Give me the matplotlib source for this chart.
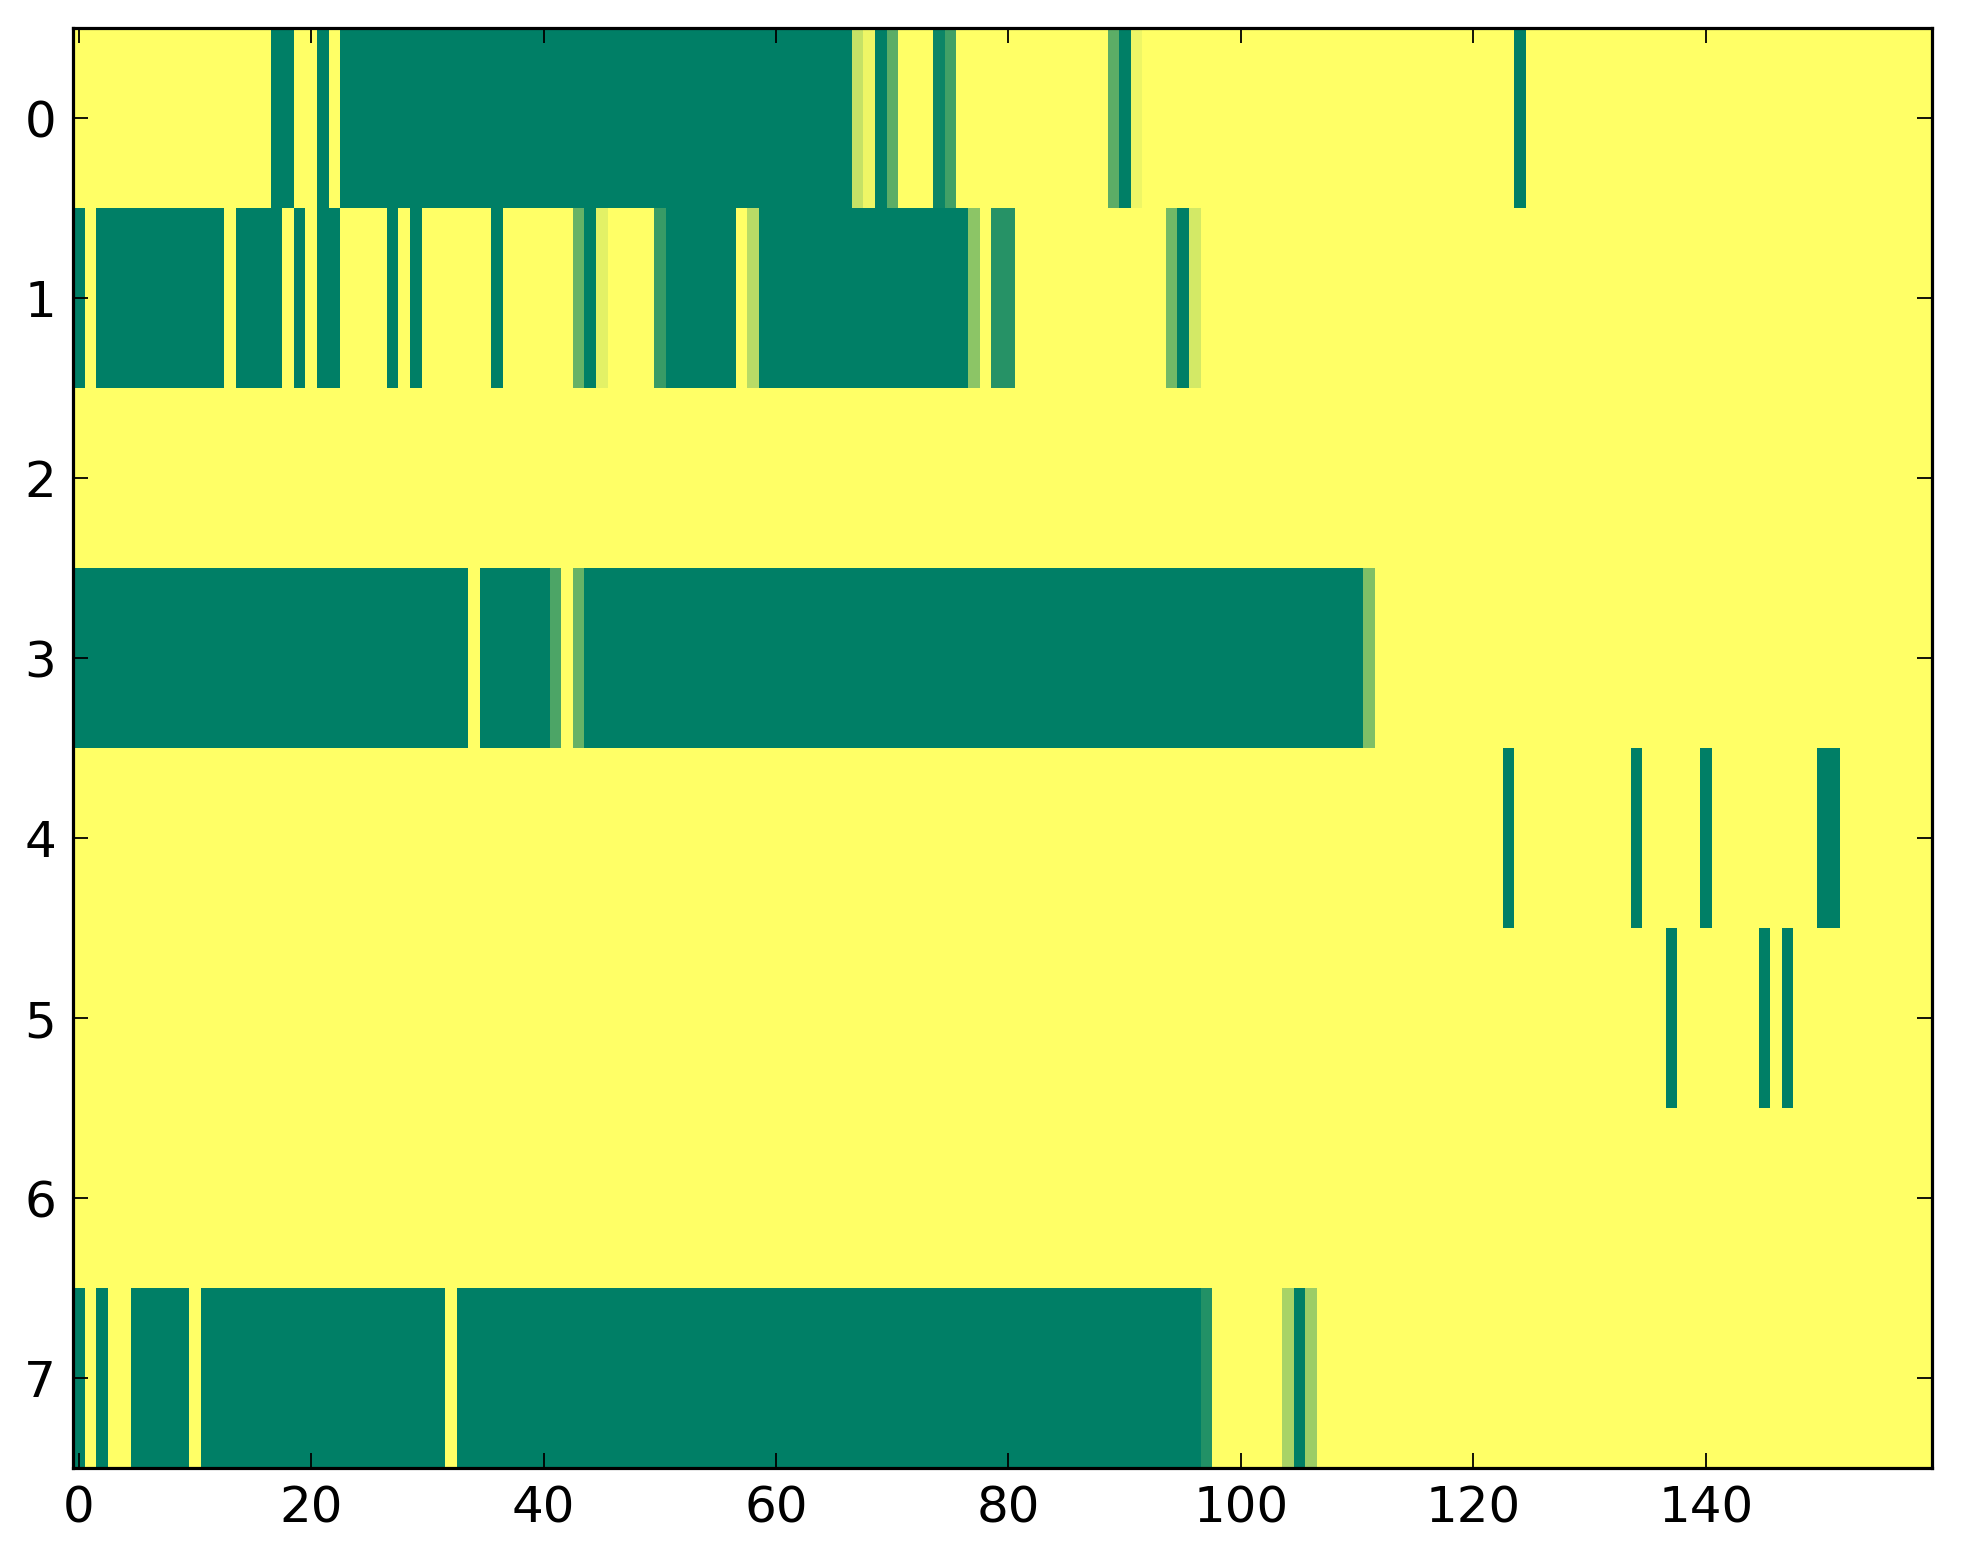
import numpy as np
import matplotlib
matplotlib.use("Agg")
import matplotlib.pyplot as plt

N_ROWS = 8
N_COLS = 160

# (first column, last column + 1, value) for each non-zero run, per row
row0 = [(17, 19, 1.0), (21, 22, 1.0), (23, 67, 1.0), (67, 68, 0.23), (68, 69, 0.07),
        (69, 70, 1.0), (70, 71, 0.64), (74, 75, 0.95), (75, 76, 0.74),
        (89, 90, 0.64), (90, 91, 1.0), (91, 92, 0.07), (124, 125, 1.0)]
row1 = [(0, 1, 1.0), (2, 13, 1.0), (14, 18, 1.0), (19, 20, 1.0), (21, 23, 1.0),
        (27, 28, 1.0), (29, 30, 1.0), (36, 37, 1.0), (43, 44, 0.60), (44, 45, 1.0),
        (45, 46, 0.11), (50, 51, 0.78), (51, 57, 1.0), (58, 59, 0.28), (59, 77, 1.0),
        (77, 78, 0.45), (79, 81, 0.85), (94, 95, 0.55), (95, 96, 1.0), (96, 97, 0.17)]
row2 = []
row3 = [(0, 34, 1.0), (35, 41, 1.0), (41, 42, 0.70), (43, 44, 0.60), (44, 111, 1.0),
        (111, 112, 0.50)]
row4 = [(123, 124, 1.0), (134, 135, 1.0), (140, 141, 1.0), (150, 152, 1.0)]
row5 = [(137, 138, 1.0), (145, 146, 1.0), (147, 148, 1.0)]
row6 = []
row7 = [(0, 1, 1.0), (2, 3, 1.0), (5, 10, 1.0), (11, 32, 1.0), (33, 97, 1.0),
        (97, 98, 0.86), (104, 105, 0.34), (105, 106, 1.0), (106, 107, 0.39)]

rows = [row0, row1, row2, row3, row4, row5, row6, row7]

grid = np.zeros((N_ROWS, N_COLS))
for r, spans in enumerate(rows):
    for start, stop, val in spans:
        grid[r, start:stop] = val

fig = plt.figure(figsize=(19.63, 15.64), dpi=100)
ax = fig.add_axes([0.0371, 0.0612, 0.9473, 0.9207])
ax.imshow(grid, cmap='summer_r', aspect='auto', interpolation='nearest')

ax.set_xticks(np.arange(0, 141, 20))
ax.set_yticks(np.arange(0, N_ROWS))
ax.tick_params(direction='in', top=True, right=True, length=11, width=1.3,
               labelsize=36, pad=12)
for s in ax.spines.values():
    s.set_linewidth(2.3)

fig.savefig("out.png", dpi=100)
